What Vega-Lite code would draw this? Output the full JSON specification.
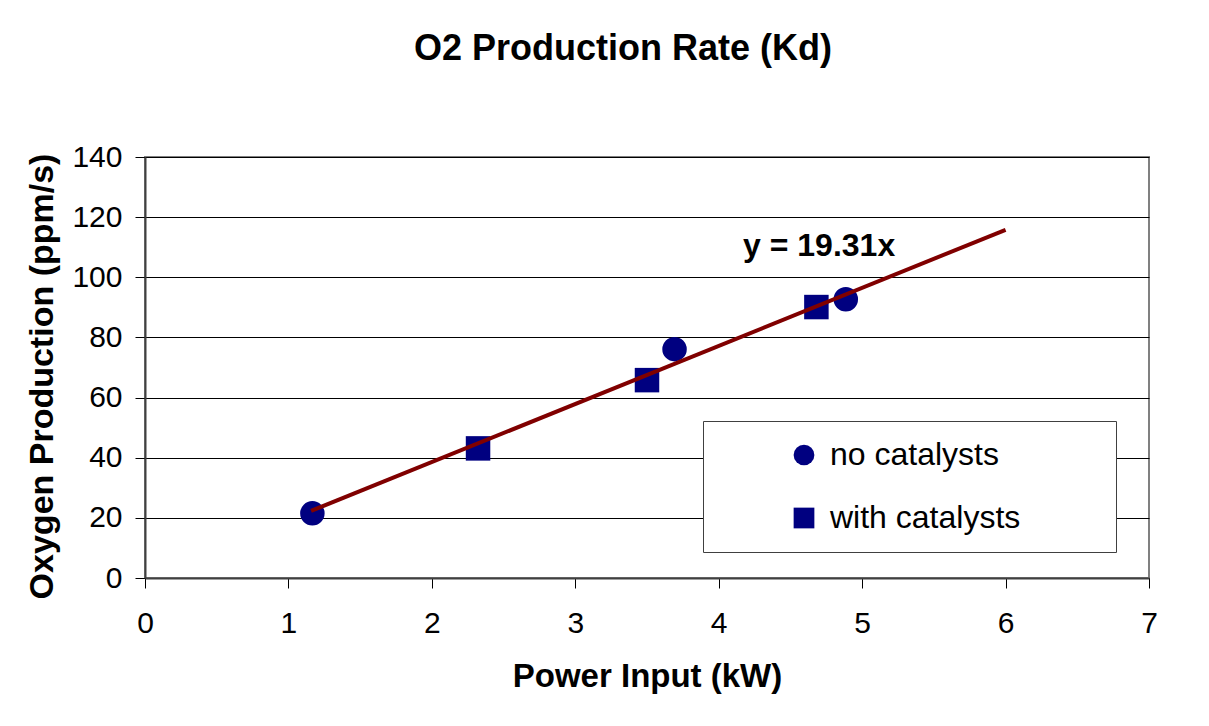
{
  "$schema": "https://vega.github.io/schema/vega-lite/v6.json",
  "width": 1004,
  "height": 421,
  "autosize": {"type": "none"},
  "padding": {"left": 145, "top": 157, "right": 60, "bottom": 148},
  "background": "white",
  "title": {
    "text": "O2 Production Rate (Kd)",
    "fontSize": 36,
    "font": "Liberation Sans",
    "fontWeight": "bold",
    "color": "black",
    "anchor": "middle",
    "frame": "group",
    "baseline": "alphabetic",
    "dx": -24,
    "offset": 46
  },
  "config": {
    "font": "Liberation Sans",
    "view": {"stroke": "#808080", "strokeWidth": 2},
    "point": {"opacity": 1}
  },
  "layer": [
    {
      "data": {
        "values": [
          {"power": 1.167, "oxygen": 21.5, "series": "no catalysts"},
          {"power": 2.322, "oxygen": 43.1, "series": "with catalysts"},
          {"power": 3.5, "oxygen": 65.8, "series": "with catalysts"},
          {"power": 3.692, "oxygen": 76.1, "series": "no catalysts"},
          {"power": 4.681, "oxygen": 90.1, "series": "with catalysts"},
          {"power": 4.886, "oxygen": 92.7, "series": "no catalysts"}
        ]
      },
      "mark": {"type": "point", "filled": true, "color": "#000080", "size": 600},
      "encoding": {
        "x": {
          "field": "power",
          "type": "quantitative",
          "scale": {"domain": [0, 7], "nice": false},
          "axis": {
            "title": "Power Input (kW)",
            "values": [0, 1, 2, 3, 4, 5, 6, 7],
            "format": "d",
            "grid": false,
            "tickSize": 10,
            "tickColor": "black",
            "domainColor": "#404040",
            "domainWidth": 2,
            "labelFont": "Liberation Sans",
            "labelFontSize": 30,
            "labelColor": "black",
            "labelPadding": 20,
            "labelFlush": false,
            "titleFont": "Liberation Sans",
            "titleFontSize": 33,
            "titleFontWeight": "bold",
            "titleColor": "black",
            "titlePadding": 22
          }
        },
        "y": {
          "field": "oxygen",
          "type": "quantitative",
          "scale": {"domain": [0, 140], "nice": false},
          "axis": {
            "title": "Oxygen Production (ppm/s)",
            "values": [0, 20, 40, 60, 80, 100, 120, 140],
            "grid": true,
            "gridColor": "black",
            "tickSize": 10,
            "tickColor": "black",
            "domainColor": "#404040",
            "domainWidth": 2,
            "labelFont": "Liberation Sans",
            "labelFontSize": 30,
            "labelColor": "black",
            "labelPadding": 13,
            "labelFlush": false,
            "titleFont": "Liberation Sans",
            "titleFontSize": 34,
            "titleFontWeight": "bold",
            "titleColor": "black",
            "titlePadding": 12,
            "titleY": 219
          }
        },
        "shape": {
          "field": "series",
          "type": "nominal",
          "scale": {"domain": ["no catalysts", "with catalysts"], "range": ["circle", "square"]},
          "legend": {
            "title": "\u00a0",
            "titleOrient": "right",
            "titleFontSize": 10,
            "titlePadding": 78,
            "orient": "none",
            "legendX": 558,
            "legendY": 264,
            "fillColor": "white",
            "strokeColor": "#404040",
            "padding": 18,
            "labelFont": "Liberation Sans",
            "labelFontSize": 32,
            "labelColor": "black",
            "labelLimit": 600,
            "labelOffset": 10,
            "symbolSize": 430,
            "symbolFillColor": "#000080",
            "symbolStrokeWidth": 0,
            "symbolOffset": 67,
            "rowPadding": 31
          }
        }
      }
    },
    {
      "data": {"values": [{"power": 1.158, "oxygen": 22.3}, {"power": 6.0, "oxygen": 115.8}]},
      "mark": {"type": "line", "color": "#800000", "strokeWidth": 4},
      "encoding": {
        "x": {"field": "power", "type": "quantitative"},
        "y": {"field": "oxygen", "type": "quantitative"}
      }
    },
    {
      "data": {"values": [{"power": 4.7, "oxygen": 107.2, "label": "y = 19.31x"}]},
      "mark": {"type": "text", "font": "Liberation Sans", "fontSize": 32, "fontWeight": "bold", "align": "center", "baseline": "alphabetic", "color": "black"},
      "encoding": {
        "x": {"field": "power", "type": "quantitative"},
        "y": {"field": "oxygen", "type": "quantitative"},
        "text": {"field": "label"}
      }
    }
  ]
}
